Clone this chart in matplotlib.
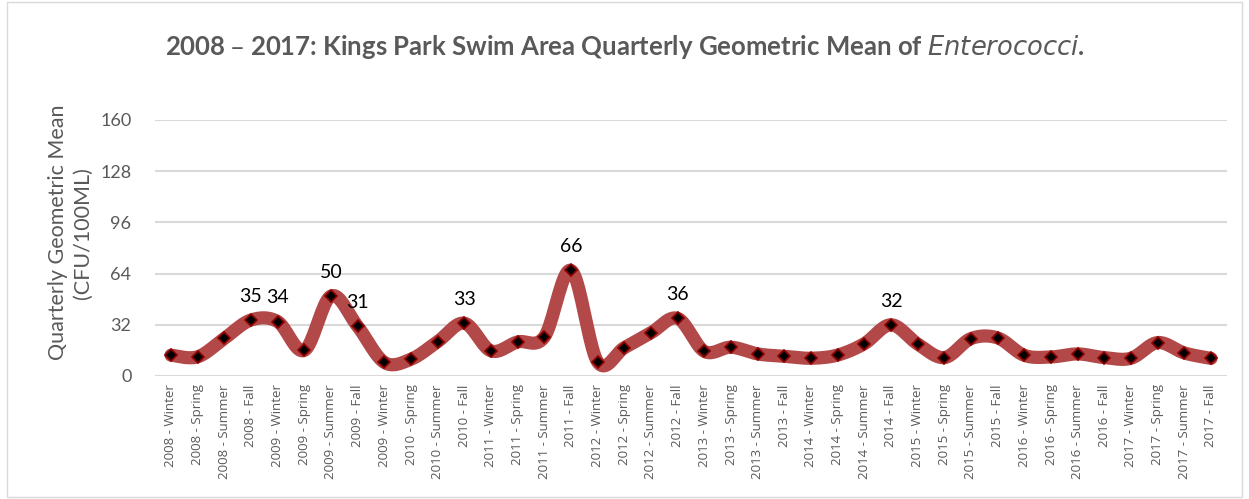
import numpy as np
import matplotlib.pyplot as plt
from matplotlib.patches import Rectangle

# Quarterly geometric mean of Enterococci (CFU/100mL), Kings Park swim area
quarters = ['2008 - Winter', '2008 - Spring', '2008 - Summer', '2008 - Fall',
            '2009 - Winter', '2009 - Spring', '2009 - Summer', '2009 - Fall',
            '2009 - Winter', '2010 - Spring', '2010 - Summer', '2010 - Fall',
            '2011 - Winter', '2011 - Spring', '2011 - Summer', '2011 - Fall',
            '2012 - Winter', '2012 - Spring', '2012 - Summer', '2012 - Fall',
            '2013 - Winter', '2013 - Spring', '2013 - Summer', '2013 - Fall',
            '2014 - Winter', '2014 - Spring', '2014 - Summer', '2014 - Fall',
            '2015 - Winter', '2015 - Spring', '2015 - Summer', '2015 - Fall',
            '2016 - Winter', '2016 - Spring', '2016 - Summer', '2016 - Fall',
            '2017 - Winter', '2017 - Spring', '2017 - Summer', '2017 - Fall']
geo_mean = [13, 12, 23.5, 35, 34, 16, 50, 31,
            8.5, 10.5, 21.5, 33, 15.7, 21.3, 24.4, 66,
            8.8, 17.7, 27, 36, 15.4, 18, 13.8, 12.3,
            11.1, 13.1, 20.2, 32, 20, 11.5, 23.4, 23.8,
            12.9, 11.9, 13.8, 11.5, 11.1, 20.9, 14.4, 11]
labelled = [3, 4, 6, 7, 11, 15, 19, 27]
yticks = [0, 32, 64, 96, 128, 160]

grey = '#595959'
line_clr = '#B34848'


def smooth(x, y, n=20):
    # Catmull-Rom curve through every point (Excel style smoothed line)
    x = np.asarray(x, float); y = np.asarray(y, float)
    px = np.concatenate([[x[0]], x, [x[-1]]])
    py = np.concatenate([[y[0]], y, [y[-1]]])
    xs, ys = [], []
    t = np.linspace(0, 1, n, endpoint=False)
    for i in range(1, len(px) - 2):
        b0x, b3x = px[i], px[i + 1]
        b0y, b3y = py[i], py[i + 1]
        b1x = b0x + (px[i + 1] - px[i - 1]) / 6
        b1y = b0y + (py[i + 1] - py[i - 1]) / 6
        b2x = b3x - (px[i + 2] - px[i]) / 6
        b2y = b3y - (py[i + 2] - py[i]) / 6
        xs.append((1-t)**3*b0x + 3*(1-t)**2*t*b1x + 3*(1-t)*t**2*b2x + t**3*b3x)
        ys.append((1-t)**3*b0y + 3*(1-t)**2*t*b1y + 3*(1-t)*t**2*b2y + t**3*b3y)
    xs.append([x[-1]]); ys.append([y[-1]])
    return np.concatenate(xs), np.concatenate(ys)


plt.rcParams['font.family'] = ['Lato', 'DejaVu Sans']

fig = plt.figure(figsize=(12.49, 4.99), dpi=100)
fig.patch.set_facecolor('white')
fig.add_artist(Rectangle((0.006, 0.004), 0.988, 0.992, transform=fig.transFigure,
                         fill=False, edgecolor='#D9D9D9', linewidth=1))

ax = fig.add_axes([155/1249, (499-376)/499, (1227-155)/1249, 256/499])
x = np.arange(len(quarters))
sx, sy = smooth(x, geo_mean)
ax.plot(sx, sy, '-', color=line_clr, linewidth=9.5, solid_capstyle='round', zorder=3)
ax.plot(x, geo_mean, 'D', color='black', markeredgecolor='#8B0000',
        markeredgewidth=1.2, markersize=6.5, zorder=4)

for i in labelled:
    ax.annotate(f'{geo_mean[i]:g}', (x[i], geo_mean[i]), xytext=(0, 11),
                textcoords='offset points', ha='center', va='bottom',
                fontsize=14, color='black')

ax.set_xlim(-0.6, len(quarters) - 0.4)
ax.set_ylim(0, 160)
ax.set_yticks(yticks)
ax.set_xticks(x)
ax.set_xticklabels(quarters, rotation=90, fontsize=9.5, color=grey,
                   family=['Open Sans', 'DejaVu Sans'])
ax.tick_params(axis='y', labelsize=13, labelcolor=grey, length=0, pad=17)
ax.tick_params(axis='x', length=0, pad=6)
ax.grid(axis='y', color='#D9D9D9', linewidth=1.5)
ax.set_axisbelow(True)
for s in ax.spines.values():
    s.set_visible(False)

ax.set_ylabel('Quarterly Geometric Mean\n(CFU/100ML)', fontsize=15.5,
              color=grey, linespacing=1.3)
ax.yaxis.set_label_coords(-0.058, 0.56)

fig.text(0.5, 0.905, r'2008 – 2017: Kings Park Swim Area Quarterly Geometric Mean of $\it{Enterococci}$.',
         ha='center', va='center', fontsize=18.5, fontweight='bold', color=grey)

plt.savefig('out.png', dpi=100)
